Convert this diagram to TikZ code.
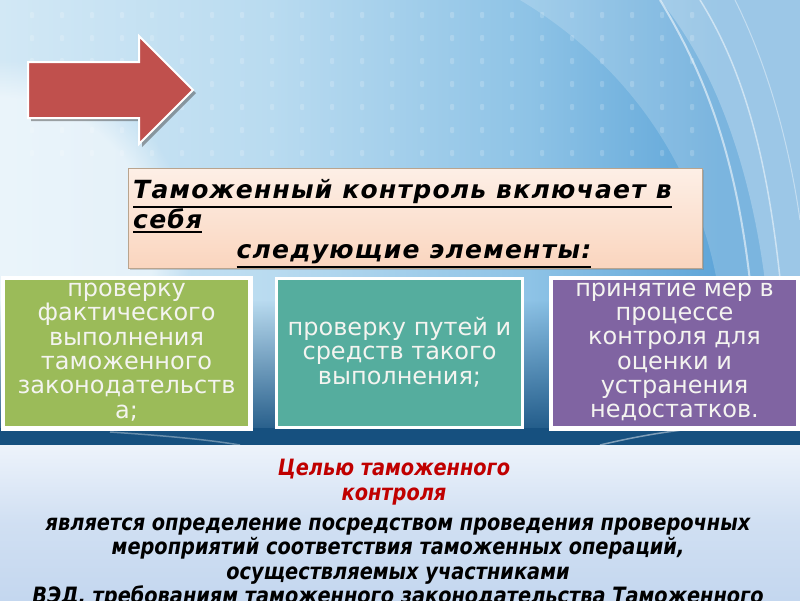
\documentclass[tikz,border=0pt]{standalone}
\usepackage{fontspec}
\setmainfont{DejaVu Sans}
\newfontfamily\titlefam[LetterSpace=5]{DejaVu Sans}
\newfontfamily\boxfam{DejaVu Sans}
\newfontfamily\botfam[FakeStretch=0.86]{DejaVu Sans}
\usetikzlibrary{fadings,shadows}
\definecolor{bgA}{HTML}{D2E8F5}
\definecolor{bgB}{HTML}{B9DBF0}
\definecolor{bgC}{HTML}{8EC3E6}
\definecolor{bgD}{HTML}{5EA5D8}
\definecolor{darkband}{HTML}{16507F}
\definecolor{arrowred}{HTML}{C0504D}
\definecolor{boxgreen}{HTML}{9BBB59}
\definecolor{boxteal}{HTML}{55AD9E}
\definecolor{boxpurple}{HTML}{8064A2}
\definecolor{titletop}{HTML}{FDEFE6}
\definecolor{titlebot}{HTML}{FAD5BE}
\definecolor{titleedge}{HTML}{B9A48E}
\definecolor{redtxt}{HTML}{C00000}
\definecolor{boxtxt}{HTML}{F4F4F0}
\definecolor{panelA}{HTML}{EDF3FB}
\definecolor{panelB}{HTML}{C4D7EF}
\pgfdeclarehorizontalshading{bgsh}{100bp}{color(0bp)=(bgA); color(25bp)=(bgA); color(42bp)=(bgB); color(58bp)=(bgC); color(70bp)=(bgD); color(100bp)=(bgD)}
\newcommand\myul[1]{\leavevmode\vtop{\hbox{#1}\kern2.5pt\hrule height 2pt}}
\tikzset{
  elembox/.style={draw=white, line width=3pt, minimum width=246pt, minimum height=149pt, anchor=north west, inner sep=0pt},
  boxtext/.style={text=boxtxt, font=\boxfam\fontsize{24}{24.3}\selectfont, align=center, inner sep=0pt},
  titletext/.style={font=\titlefam\bfseries\itshape\fontsize{25}{28}\selectfont, anchor=base west, inner sep=0pt},
  bottext/.style={font=\botfam\bfseries\itshape\fontsize{22.5}{24.5}\selectfont, align=center, inner sep=0pt},
}
\begin{document}
\begin{tikzpicture}[x=1pt,y=-1pt]
\useasboundingbox (0,0) rectangle (800,600);
\clip (0,0) rectangle (800,600);
% background
\shade[shading=bgsh] (0,0) rectangle (800,445);
\fill[white,opacity=0.55,path fading=circle with fuzzy edge 20 percent] (0,250) circle (190);
% faint dot grid
\foreach \gx in {30,60,...,690} {
  \foreach \gy in {12,35,...,170} {
    \fill[white,opacity=0.18,rounded corners=1pt] (\gx,\gy) rectangle ++(4,6);
  }
}
% wisps
\fill[white,opacity=0.18] (520,0) .. controls (620,60) and (700,160) .. (720,300) -- (800,300) -- (800,0) -- cycle;
\fill[white,opacity=0.25] (660,0) .. controls (725,80) and (760,200) .. (770,330) -- (800,330) -- (800,0) -- cycle;
\draw[white,opacity=0.55,line width=2pt] (660,0) .. controls (715,90) and (740,180) .. (752,300);
\draw[white,opacity=0.5,line width=1.5pt] (700,0) .. controls (750,80) and (772,180) .. (784,320);
\draw[white,opacity=0.4,line width=1pt] (735,0) .. controls (770,70) and (790,150) .. (800,220);
% dark band under elements
\fill[darkband,path fading=north] (0,300) rectangle (800,445);
\fill[darkband] (0,428) rectangle (800,445);
\draw[white,opacity=0.35,line width=1.5pt] (110,432) .. controls (170,436) and (210,440) .. (240,445);
\draw[white,opacity=0.45,line width=1.5pt] (600,445) .. controls (630,438) and (660,432) .. (700,428);
% arrow
\fill[gray!60!black,opacity=0.5] (31,65) -- (142,65) -- (142,39) -- (196,93) -- (142,147) -- (142,121) -- (31,121) -- cycle;
\filldraw[fill=arrowred,draw=white,line width=2pt] (28,62) -- (139,62) -- (139,36) -- (193,90) -- (139,144) -- (139,118) -- (28,118) -- cycle;
% title box
\node[draw=titleedge,line width=0.8pt,top color=titletop,bottom color=titlebot,minimum width=574pt,minimum height=100pt,anchor=north west,inner sep=0pt,drop shadow={opacity=0.35,shadow xshift=2pt,shadow yshift=-2pt}] (title) at (128,168) {};
\node[titletext] (t1) at (133,198) {\myul{Таможенный контроль включает в}};
\node[titletext] (t2) at (133,228) {\myul{себя}};
\node[titletext,anchor=base] (t3) at (414,258) {\myul{следующие элементы:}};
% element boxes
\node[elembox,fill=boxgreen] (b1) at (2,277) {};
\node[elembox,fill=boxteal] (b2) at (275,277) {};
\node[elembox,fill=boxpurple] (b3) at (550,277) {};
\begin{scope}
\clip (b1.north west) rectangle (b1.south east);
\node[boxtext] (x1) at ([yshift=1pt]b1.center) {проверку\\фактического\\выполнения\\таможенного\\законодательств\\а;};
\end{scope}
\node[boxtext] (x2) at ([yshift=1pt]b2.center) {проверку путей и\\средств такого\\выполнения;};
\begin{scope}
\clip (b3.north west) rectangle (b3.south east);
\node[boxtext] (x3) at ([yshift=1pt]b3.center) {принятие мер в\\процессе\\контроля для\\оценки и\\устранения\\недостатков.};
\end{scope}
\draw[white,line width=3pt] (b1.north west) rectangle (b1.south east);
\draw[white,line width=3pt] (b3.north west) rectangle (b3.south east);
% bottom panel
\shade[top color=panelA,bottom color=panelB,middle color=panelB!70!panelA] (0,445) rectangle (800,600);
\node[bottext,text=redtxt] (goal) at (394,482) {Целью таможенного\\контроля};
\node[bottext] (goaltext) at (398,563) {является определение посредством проведения проверочных\\мероприятий соответствия таможенных операций,\\осуществляемых участниками\\ВЭД, требованиям таможенного законодательства Таможенного};
\end{tikzpicture}
\end{document}
